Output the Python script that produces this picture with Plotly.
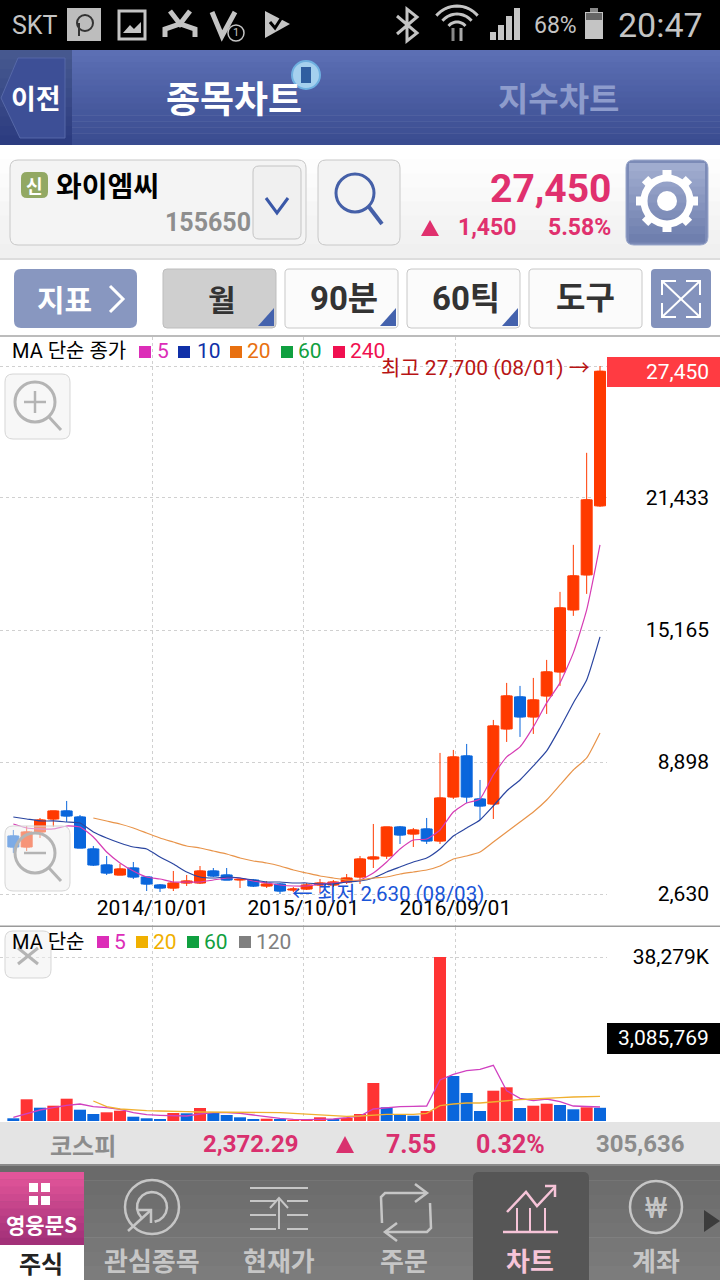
import math
import plotly.graph_objects as go

# ---------- data ----------
idx = list(range(1, 46))
opens = [5385,4863,5575,6193,6573,6288,4768,4008,3533,3865,3438,3058,2915,3153,3153,3723,3533,3300,3295,3010,3105,2820,2868,3058,3058,3200,3438,4293,4435,5813,5480,5718,5148,7238,9185,7143,6905,10468,11988,11038,12035,13175,16120,17783,21060]
highs = [5670,5860,6240,6573,7048,6383,4910,4435,4055,4150,3438,3105,3723,3533,3960,3865,3865,3340,3343,3248,3153,2963,3153,3343,3295,3580,4435,5955,5813,5860,5765,6240,9328,9470,9755,8045,10895,12653,12510,12890,13745,16975,19208,23578,27700]
lows = [4578,4673,5290,5813,6050,4815,3960,3533,3533,3343,2773,2725,2773,3010,3105,3438,3295,2915,2963,2915,2630,2725,2820,2678,2963,3105,3105,3865,4293,5005,4863,5005,5005,7143,6953,6145,6193,9850,10088,10230,11180,12510,15835,16880,21013]
closes = [4863,5575,6145,6573,6335,4815,4008,3628,3818,3438,3105,2915,3153,3248,3723,3485,3295,3330,3010,3105,2773,2868,3058,3153,3200,3390,4293,4388,5813,5433,5670,5148,7190,9138,7238,6810,10610,12035,11038,11845,13175,16215,17735,21345,27450]
ma5 = [5955,5765,5718,5718,5860,5813,5338,4625,4103,3723,3438,3343,3200,3200,3200,3295,3390,3390,3248,3153,3058,3010,3010,3105,3153,3200,3295,3628,4150,4768,5195,5243,5670,6525,6953,7143,8283,9138,9613,10563,11703,12653,14078,16120,19208]
ma10 = [6288,6193,6098,6098,6050,6003,5575,5290,5053,4863,4768,4388,4055,3675,3438,3390,3438,3390,3295,3200,3200,3153,3153,3105,3105,3200,3248,3390,3675,3913,4150,4340,4768,5385,5765,6145,6810,7523,8045,8710,9423,10515,11703,12795,14838]
ma20_idx = list(range(7, 46))
ma20 = [6240,6098,5955,5765,5528,5290,5100,4910,4815,4673,4530,4340,4198,4103,3960,3770,3628,3485,3390,3295,3295,3390,3438,3580,3675,3770,3960,4293,4435,4625,5100,5575,6050,6525,7095,7808,8520,9090,10278]
volume_k = [630,5065,3104,3571,5205,2637,1634,2031,2404,1004,630,397,1867,1797,3034,1867,1400,864,467,537,303,70,397,864,397,700,1634,8869,3198,1564,1237,2334,38279,10503,6535,2334,7072,7866,3034,3571,4038,3734,2731,3198,3086]
vol_rising = [0,1,0,1,1,0,0,1,1,0,0,0,1,0,1,0,0,0,0,1,0,1,1,1,0,1,1,1,0,0,0,1,1,0,0,0,1,1,0,1,1,0,0,1,0]
vol_ma5 = [864,1634,2567,3104,3664,3968,3338,3104,2731,1937,1470,1330,1330,1167,1634,1937,1937,1797,1400,1004,630,397,303,397,467,770,1167,2801,3104,3338,3431,3501,9569,10900,11740,12067,13000,7072,5298,4738,5135,4505,3501,3431,3268]
vol_ma20 = [4668,3338,2801,2567,2404,2334,2334,2171,2101,2101,2031,2101,2031,2031,1937,1797,1634,1470,1330,1097,1167,1400,1564,1564,1564,1797,3571,3968,4201,4201,4505,4831,4971,5135,5205,5438,5602,5672,5765]
date_pos = [11.45, 22.75, 34.15]
date_labels = ["2014/10/01", "2015/10/01", "2016/09/01"]
price_ticks = [2630, 8898, 15165, 21433, 27700]
price_labels = ["2,630", "8,898", "15,165", "21,433", ""]
vol_ticks = [38279]
vol_labels = ["38,279K"]

# ---------- helpers for screen furniture ----------
RED, BLUE = "#ff3a00", "#0a66dc"
VRED = "#ff3333"
F = "Roboto, 'Noto Sans CJK KR', sans-serif"
KR = "'Noto Sans CJK KR', Roboto, sans-serif"
PX = lambda x: x / 720
PY = lambda y: 1 - y / 1280
shapes, notes = [], []

def rect(x0, y0, x1, y1, fill, line=None, layer="above", lw=1):
    shapes.append(dict(type="rect", xref="paper", yref="paper", x0=PX(x0), x1=PX(x1), y0=PY(y1), y1=PY(y0),
                       fillcolor=fill, line=dict(color=line or "rgba(0,0,0,0)", width=lw if line else 0), layer=layer))

def grad(x0, y0, x1, y1, top, bot, n=14):
    a = [int(top[i:i+2], 16) for i in (1, 3, 5)]
    b = [int(bot[i:i+2], 16) for i in (1, 3, 5)]
    h = (y1 - y0) / n
    for k in range(n):
        t = k / max(n - 1, 1)
        c = "rgb(%d,%d,%d)" % tuple(round(a[i] + (b[i] - a[i]) * t) for i in range(3))
        rect(x0, y0 + k * h, x1, y0 + (k + 1) * h + .5, c)

def poly(pts, color=None, fill=None, lw=2, close=False):
    d = "M" + " L".join("%.5f,%.5f" % (PX(x), PY(y)) for x, y in pts) + (" Z" if close else "")
    shapes.append(dict(type="path", xref="paper", yref="paper", path=d, layer="above", fillcolor=fill or "rgba(0,0,0,0)",
                       line=dict(color=color or "rgba(0,0,0,0)", width=lw if color else 0)))

def rrect(x0, y0, x1, y1, r, fill, line=None, lw=1):
    def p(x, y):
        return "%.5f,%.5f" % (PX(x), PY(y))
    d = ("M" + p(x0 + r, y0) + " L" + p(x1 - r, y0) + " Q" + p(x1, y0) + " " + p(x1, y0 + r) + " L" + p(x1, y1 - r) +
         " Q" + p(x1, y1) + " " + p(x1 - r, y1) + " L" + p(x0 + r, y1) + " Q" + p(x0, y1) + " " + p(x0, y1 - r) +
         " L" + p(x0, y0 + r) + " Q" + p(x0, y0) + " " + p(x0 + r, y0) + " Z")
    shapes.append(dict(type="path", xref="paper", yref="paper", path=d, layer="above", fillcolor=fill,
                       line=dict(color=line or "rgba(0,0,0,0)", width=lw if line else 0)))

def circle(cx, cy, r, line=None, fill=None, lw=2):
    shapes.append(dict(type="circle", xref="paper", yref="paper", x0=PX(cx - r), x1=PX(cx + r), y0=PY(cy + r), y1=PY(cy - r), layer="above",
                       fillcolor=fill or "rgba(0,0,0,0)", line=dict(color=line or "rgba(0,0,0,0)", width=lw if line else 0)))

def arc(cx, cy, r, a0, a1, n=16):
    return [(cx + r * math.cos(math.radians(a0 + (a1 - a0) * k / n)), cy + r * math.sin(math.radians(a0 + (a1 - a0) * k / n))) for k in range(n + 1)]

def text(x, y, s, size, color="#000", anchor="center", bold=False, family=F):
    notes.append(dict(xref="paper", yref="paper", x=PX(x), y=PY(y), text="<b>%s</b>" % s if bold else s, showarrow=False,
                      xanchor=anchor, yanchor="middle", font=dict(size=size, color=color, family=family), borderpad=0, borderwidth=0))

def tri(x0, y0, x1, y1, x2, y2, fill):
    poly([(x0, y0), (x1, y1), (x2, y2)], fill=fill, close=True)

# ---------- status bar ----------
GREY = "#c4c4c4"
rect(0, 0, 720, 50, "#000000")
text(35, 25, "SKT", 25, GREY)
rect(67, 8, 101, 41, "#bdbdbd")
circle(85, 23, 8, line="#333", lw=2)
poly([(79, 23), (79, 36)], "#333", lw=2)
rect(119, 11, 145, 39, "#000", line=GREY, lw=3)
poly([(123, 33), (130, 25), (134, 29), (141, 22), (141, 33)], fill=GREY, close=True)
poly([(170, 11), (180, 24), (190, 11)], GREY, lw=5)
poly([(165, 37), (165, 29), (180, 24), (195, 29), (195, 37)], GREY, lw=5)
poly([(212, 12), (222, 36), (235, 12)], GREY, lw=5)
circle(236, 33, 8, line=GREY, lw=1.5)
text(236, 33, "1", 11, GREY)
poly([(265, 11), (290, 24), (265, 38)], fill=GREY, close=True)
poly([(270, 22), (275, 28), (286, 11)], "#000", lw=3)
poly([(397, 16), (417, 33), (407, 41), (407, 9), (417, 17), (397, 34)], GREY, lw=3)
for r in (27, 19, 11):
    poly(arc(457, 33, r, 220, 320), GREY, lw=3)
poly([(453, 28), (453, 41)], "#888", lw=3)
poly([(461, 28), (461, 41)], "#aaa", lw=3)
for i, h in enumerate((8, 15, 24, 32)):
    rect(490 + i * 8, 40 - h, 496 + i * 8, 40, GREY)
text(555, 25, "68%", 23, GREY)
rect(585, 12, 603, 39, GREY)
rect(590, 8, 598, 12, "#888888")
rect(586, 13, 602, 20, "#666666")
text(660, 25, "20:47", 34, GREY)

# ---------- header ----------
grad(0, 50, 720, 145, "#5c6fb4", "#3a4c90", 16)
grad(0, 50, 72, 145, "#46588f", "#2c3c80", 10)
poly([(18, 58), (65, 58), (65, 138), (20, 138), (1, 98)], fill="#3d4f96", color="#5668a8", lw=1, close=True)
text(36, 98, "이전", 27, "#fff", bold=True, family=KR)
text(234, 97, "종목차트", 37, "#fff", bold=True, family=KR)
text(558, 97, "지수차트", 33, "#8e9ccc", bold=True, family=KR)
circle(306, 75, 14, fill="#a5d0ee", line="#6fb0e0", lw=2)
rect(301, 67, 311, 83, "#2f5ea0")

# ---------- stock row ----------
grad(0, 145, 720, 258, "#ffffff", "#f0f0f0", 8)
rect(0, 258, 720, 260, "#dddddd")
rrect(10, 160, 306, 245, 8, "#f4f4f4", "#c8c8c8")
rrect(253, 166, 301, 239, 6, "#f0f0f0", "#c4c4c4")
poly([(266, 198), (277, 213), (288, 198)], "#3a58a8", lw=3)
rrect(21, 172, 48, 198, 6, "#92a863")
text(34.5, 185, "신", 18, "#fff", bold=True, family=KR)
text(56, 185, "와이엠씨", 28, "#000", "left", True, KR)
text(251, 223, "155650", 25, "#8e8e8e", "right", True)
rrect(318, 160, 400, 245, 8, "#f3f3f3", "#c8c8c8")
circle(355, 193, 19, line="#4560a8", lw=3)
poly([(369, 207), (382, 224)], "#4560a8", lw=4)
rrect(626, 160, 708, 245, 8, "#7c8bb7", "#9aa7cb")
grad(629, 163, 705, 242, "#a0accf", "#6f7fae", 10)
circle(667, 201, 23, line="#ffffff", lw=7)
circle(667, 201, 10, fill="#ffffff")
for a in range(0, 360, 45):
    ca, sa = math.cos(math.radians(a)), math.sin(math.radians(a))
    poly([(667 + 25 * ca, 201 + 25 * sa), (667 + 31 * ca, 201 + 31 * sa)], "#ffffff", lw=9)
text(611, 189, "27,450", 39, "#e0306e", "right", True)
tri(421, 236, 439, 236, 430, 220, "#e0306e")
text(516, 228, "1,450", 23, "#e0306e", "right", True)
text(611, 228, "5.58%", 23, "#e0306e", "right", True)

# ---------- toolbar ----------
rect(0, 260, 720, 336, "#ffffff")
rect(0, 335, 720, 337, "#bcbcbc")
rrect(14, 269, 137, 328, 7, "#8897c0")
text(64, 298, "지표", 30, "#fff", bold=True, family=KR)
poly([(110, 286), (123, 299), (110, 312)], "#fff", lw=3)
rrect(163, 269, 276, 328, 4, "#cfcfcf", "#bdbdbd")
for x0, x1, s, cx, fs in ((285, 398, "90분", 344, 33), (407, 520, "60틱", 466, 33), (529, 642, "도구", 585, 32)):
    rrect(x0, 269, x1, 328, 4, "#fbfbfb", "#c8c8c8")
    text(cx, 298, s, fs, "#333", bold=True, family=F)
    if s != "도구":
        tri(x1 - 18, 326, x1 - 2, 326, x1 - 2, 308, "#4462ad")
tri(258, 326, 274, 326, 274, 308, "#4462ad")
text(222, 298, "월", 30, "#333", bold=True, family=KR)
rrect(651, 269, 711, 328, 4, "#8392bc")
for a, b in (((662, 281), (700, 317)), ((700, 281), (662, 317))):
    poly([a, b], "#fff", lw=2)
for x, y, dx, dy in ((662, 281, 1, 1), (700, 281, -1, 1), (662, 317, 1, -1), (700, 317, -1, -1)):
    poly([(x + dx * 14, y), (x, y), (x, y + dy * 14)], "#fff", lw=2)

# ---------- chart legends ----------
text(12, 351, "MA 단순 종가", 20, "#000", "left", family=F)
for x, s, c, tx in ((139, "5", "#dc2db8", 157), (178, "10", "#1030a8", 197), (230, "20", "#e87010", 247), (281, "60", "#10a040", 298), (333, "240", "#f01050", 350)):
    rect(x, 346, x + 12, 358, c)
    text(tx, 351, s, 21, c, "left")
text(12, 942, "MA 단순", 20, "#000", "left")
for x, s, c, tx in ((97, "5", "#dc2db8", 114), (136, "20", "#f0b000", 153), (187, "60", "#10a040", 204), (239, "120", "#808080", 256)):
    rect(x, 936, x + 12, 948, c)
    text(tx, 942, s, 21, c, "left")

# zoom buttons over the panes
rrect(5, 374, 70, 439, 8, "rgba(240,240,240,0.5)", "#d6d6d6")
circle(35, 402, 20, line="#b4b4b4", lw=3)
poly([(24, 402), (46, 402)], "#b4b4b4", lw=2.5)
poly([(35, 391), (35, 413)], "#b4b4b4", lw=2.5)
poly([(49, 417), (61, 430)], "#b4b4b4", lw=3)
rrect(5, 826, 70, 891, 8, "rgba(240,240,240,0.5)", "#d6d6d6")
circle(35, 853, 20, line="#b4b4b4", lw=3)
poly([(24, 853), (46, 853)], "#b4b4b4", lw=2.5)
poly([(49, 868), (61, 881)], "#b4b4b4", lw=3)
rrect(5, 931, 51, 978, 8, "rgba(240,240,240,0.5)", "#d6d6d6")
poly([(18, 948), (38, 964)], "#b4b4b4", lw=3)
poly([(38, 948), (18, 964)], "#b4b4b4", lw=3)

# current value boxes and pane separators
rect(607, 357, 720, 387, "#ff3b42")
text(709, 372, "27,450", 21, "#fff", "right")
rect(607, 1023, 720, 1054, "#000000")
text(709, 1038, "3,085,769", 21, "#fff", "right")
rect(0, 925.5, 720, 927, "#9a9a9a")

# ---------- bottom bars ----------
rect(0, 1122, 720, 1165, "#e4e4e4")
rect(0, 1164, 720, 1166, "#8a8a8a")
PINK = "#d9306e"
text(83, 1144, "코스피", 24, "#8c8c8c", bold=True, family=KR)
text(298, 1144, "2,372.29", 24, PINK, "right", True)
tri(336, 1153, 354, 1153, 345, 1136, PINK)
text(436, 1144, "7.55", 25, PINK, "right", True)
text(545, 1144, "0.32%", 25, PINK, "right", True)
text(685, 1144, "305,636", 24, "#8c8c8c", "right", True)
grad(0, 1166, 720, 1280, "#6a6a6a", "#7c7c7c", 8)
rrect(473, 1172, 589, 1290, 6, "#565656")
grad(0, 1172, 84, 1245, "#e2559a", "#a23078", 10)
rect(0, 1245, 84, 1280, "#ffffff")
for x in (29, 41):
    for y in (1183, 1196):
        rect(x, y, x + 9, y + 9, "#ffffff")
text(41, 1224, "영웅문S", 21, "#fff", bold=True, family=KR)
text(41, 1262, "주식", 24, "#222", bold=True, family=KR)
IC = "#c6c6c6"
for s, x, c in (("관심종목", 152, IC), ("현재가", 279, IC), ("주문", 404, IC), ("차트", 530, "#f6c4d8"), ("계좌", 656, IC)):
    text(x, 1259, s, 26, c, bold=True, family=KR)
circle(152, 1207, 27, line=IC, lw=2.5)
poly(arc(152, 1207, 15, 135, 440), IC, lw=2.5)
poly([(128, 1231), (151, 1210)], IC, lw=2.5)
poly([(138, 1210), (151, 1210), (151, 1223)], IC, lw=2.5)
for y in (1188, 1201, 1215, 1229):
    poly([(250, y), (276, y)], IC, lw=2)
    poly([(287, y), (308, y)], IC, lw=2)
poly([(250, 1188), (308, 1188)], IC, lw=2)
poly([(279, 1229), (279, 1198)], IC, lw=2)
poly([(270, 1208), (279, 1198), (288, 1208)], IC, lw=2)
poly([(382, 1223), (381, 1197), (385, 1193), (426, 1193)], IC, lw=2.5)
poly([(415, 1184), (427, 1193), (415, 1202)], IC, lw=2.5)
poly([(430, 1203), (431, 1228), (427, 1232), (385, 1232)], IC, lw=2.5)
poly([(397, 1223), (385, 1232), (397, 1241)], IC, lw=2.5)
PK = "#f6c4d8"
poly([(503, 1232), (558, 1232)], PK, lw=2.5)
for x in (517, 530, 545):
    poly([(x, 1232), (x, 1208)], PK, lw=2)
poly([(507, 1212), (526, 1192), (537, 1206), (555, 1187)], PK, lw=2.5)
poly([(545, 1186), (555, 1186), (555, 1197)], PK, lw=2.5)
circle(656, 1207, 26, line=IC, lw=2.5)
text(656, 1207, "₩", 30, IC)
tri(704, 1210, 720, 1221, 704, 1232, "#3c3c3c")

# reference annotations tied to the data
notes.append(dict(xref="x", yref="y", x=45, y=27700, text="최고 27,700 (08/01) →", showarrow=False, xanchor="right", xshift=-8, yanchor="middle", yshift=-2,
                  font=dict(size=21, color="#b81414", family=F)))
notes.append(dict(xref="x", yref="y", x=21, y=2630, text="← 최저 2,630 (08/03)", showarrow=False, xanchor="left", xshift=10, yanchor="middle",
                  font=dict(size=20.5, color="#1a55d8", family=F)))

# ---------- figure ----------
fig = go.Figure()
smooth = dict(width=1.2, shape="spline", smoothing=0.5)
fig.add_trace(go.Scatter(x=idx, y=ma5, mode="lines", line=dict(color="#d63cb4", **smooth), xaxis="x", yaxis="y", showlegend=False))
fig.add_trace(go.Scatter(x=idx, y=ma10, mode="lines", line=dict(color="#2a45a0", **smooth), xaxis="x", yaxis="y", showlegend=False))
fig.add_trace(go.Scatter(x=ma20_idx, y=ma20, mode="lines", line=dict(color="#e8944a", **smooth), xaxis="x", yaxis="y", showlegend=False))
body_base = [min(o, c) for o, c in zip(opens, closes)]
body_size = [abs(c - o) for o, c in zip(opens, closes)]
body_col = [RED if c >= o else BLUE for o, c in zip(opens, closes)]
fig.add_trace(go.Bar(x=idx, y=body_size, base=body_base, width=0.825, marker=dict(color=body_col, line=dict(color=body_col, width=1)), xaxis="x", yaxis="y", showlegend=False))
fig.add_trace(go.Candlestick(x=idx, open=opens, high=highs, low=lows, close=closes, xaxis="x", yaxis="y", showlegend=False,
                             increasing=dict(line=dict(color=RED, width=1), fillcolor=RED),
                             decreasing=dict(line=dict(color=BLUE, width=1), fillcolor=BLUE)))
fig.add_trace(go.Bar(x=idx, y=volume_k, width=0.9, marker=dict(color=[VRED if r else BLUE for r in vol_rising], line=dict(width=0)), xaxis="x2", yaxis="y2", showlegend=False))
fig.add_trace(go.Scatter(x=idx, y=vol_ma5, mode="lines", line=dict(color="#d040c0", width=1.3), xaxis="x2", yaxis="y2", showlegend=False))
fig.add_trace(go.Scatter(x=ma20_idx, y=vol_ma20, mode="lines", line=dict(color="#f0b030", width=1.3), xaxis="x2", yaxis="y2", showlegend=False))

grid = dict(showgrid=True, gridcolor="#d0d0d0", griddash="3px,3px", gridwidth=1, zeroline=False, showline=False, ticks="")
xdom = [0, 607 / 720]
lab = dict(size=21, color="#000", family=F)
fig.update_layout(
    width=720, height=1280, margin=dict(l=0, r=0, t=0, b=0, pad=0), paper_bgcolor="#ffffff", plot_bgcolor="#ffffff",
    showlegend=False, barmode="overlay", font=dict(family=F),
    xaxis=dict(domain=xdom, range=[0, 45.525], tickmode="array", tickvals=date_pos, ticktext=date_labels, anchor="y",
               ticklabelposition="inside", ticklabelstandoff=4, tickfont=lab, rangeslider=dict(visible=False), **grid),
    yaxis=dict(domain=[PY(926), PY(337)], range=[1111, 29077], tickmode="array", tickvals=price_ticks, ticktext=price_labels,
               anchor="free", position=712 / 720, side="right", ticklabelposition="inside", tickfont=lab, **grid),
    xaxis2=dict(domain=xdom, range=[0, 45.525], tickmode="array", tickvals=date_pos, showticklabels=False, anchor="y2", **grid),
    yaxis2=dict(domain=[PY(1121), PY(927)], range=[0, 45280], tickmode="array", tickvals=vol_ticks, ticktext=vol_labels,
                anchor="free", position=712 / 720, side="right", ticklabelposition="inside", tickfont=lab, **grid),
    shapes=shapes, annotations=notes,
)
fig.write_html("out.html", config=dict(displayModeBar=False), post_script="document.body.style.margin='0';document.documentElement.style.overflow='hidden';")
